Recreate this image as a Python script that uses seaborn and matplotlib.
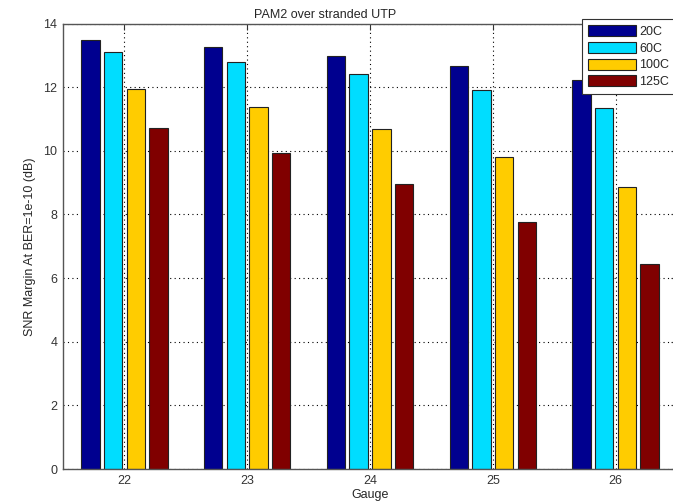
import pandas as pd
import seaborn as sns
import matplotlib.pyplot as plt

gauges = ["22", "23", "24", "25", "26"]
temps = ["20C", "60C", "100C", "125C"]
snr_20c = [13.47, 13.25, 12.99, 12.68, 12.24]
snr_60c = [13.09, 12.79, 12.42, 11.91, 11.33]
snr_100c = [11.94, 11.38, 10.69, 9.82, 8.85]
snr_125c = [10.73, 9.92, 8.96, 7.77, 6.44]
colors = ["#00008F", "#00DDFF", "#FFCC00", "#800000"]

rows = []
for temp, vals in zip(temps, [snr_20c, snr_60c, snr_100c, snr_125c]):
    for g, v in zip(gauges, vals):
        rows.append({"Gauge": g, "Temp": temp, "SNR": v})
df = pd.DataFrame(rows)

sns.set_style("white")
plt.rcParams["font.family"] = ["Liberation Sans", "DejaVu Sans"]

fig = plt.figure(figsize=(6.73, 5.04), dpi=100)
ax = fig.add_axes([63 / 673, 35 / 504, 614 / 673, 445.5 / 504])

sns.barplot(data=df, x="Gauge", y="SNR", hue="Temp", palette=colors,
            width=0.74, gap=0.19, edgecolor="#222222", linewidth=0.8,
            saturation=1, ax=ax, legend=True)

ax.set_xlim(-0.5, 4.5)
ax.set_ylim(0, 14)
ax.set_yticks(range(0, 15, 2))
ax.set_axisbelow(True)
ax.grid(True, linestyle=(0, (1, 3)), color="black", linewidth=0.8)
ax.tick_params(direction="in", top=True, right=True, length=4,
               labelsize=9, colors="#333333", pad=4)
for s in ax.spines.values():
    s.set_color("#555555")
    s.set_linewidth(1.0)

ax.set_xlabel("Gauge", fontsize=9, labelpad=2)
ax.set_ylabel("SNR Margin At BER=1e-10 (dB)", fontsize=9, labelpad=5)
ax.set_title("PAM2 over stranded UTP", fontsize=9, x=0.427, pad=4)

leg = ax.legend(loc="upper left", bbox_to_anchor=(582 / 673, 1 - 19 / 504),
                bbox_transform=fig.transFigure, fontsize=9, frameon=True,
                fancybox=False, framealpha=1, edgecolor="#333333",
                handlelength=3.8, handleheight=1.0, labelspacing=0.3,
                handletextpad=0.3, borderpad=0.5, borderaxespad=0)
leg.get_frame().set_linewidth(0.8)

fig.savefig("out.png", dpi=100)
